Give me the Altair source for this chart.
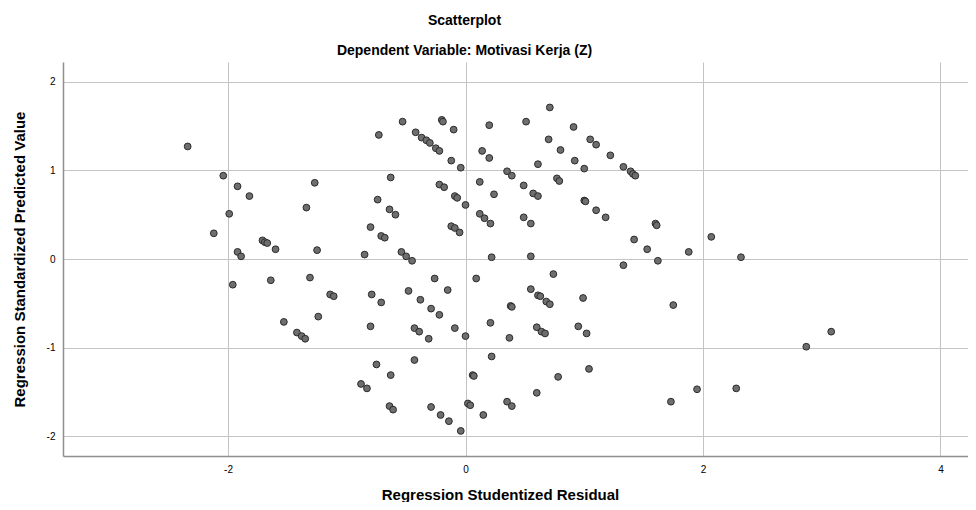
import altair as alt
import pandas as pd

# Regression Studentized Residual (x) and Regression Standardized Predicted Value (y)
resid = [
    -2.34, -2.04, -1.92, -1.82, -1.99, -2.12, -1.71, -1.69, -1.67, -1.60,
    -1.92, -1.89, -1.27, -1.34, -1.25, -1.96, -1.64, -1.31, -1.14, -1.11,
    -1.53, -1.24, -1.42, -1.38, -1.35,
    -0.73, -0.53, -0.42, -0.37, -0.33, -0.30, -0.25, -0.22, -0.20, -0.19,
    -0.10, -0.12, -0.04, -0.63, -0.22, -0.18, -0.74, -0.64, -0.59, -0.09,
    -0.07, 0.00, -0.80, -0.71, -0.68, -0.85, -0.54, -0.50, -0.45, -0.12,
    -0.09, -0.05,
    0.20, 0.51, 0.71, 0.91, 0.70, 1.05, 1.10, 0.80, 1.22, 0.14,
    0.20, 0.61, 0.92, 1.00, 1.33, 1.39, 1.41, 1.43, 0.35, 0.39,
    0.12, 0.49, 0.77, 0.79, 0.24, 0.57, 0.61, 1.00, 1.01, 1.10,
    1.18, 0.12, 0.16, 0.21, 0.49, 0.55, 1.60, 1.61, 1.42, 1.53,
    0.22, 0.55, 1.33, 1.62,
    2.07, 1.88, 2.32, 2.87, 3.08, 2.28, 1.95, 1.73, 1.75, 1.04,
    0.78, 0.99, 0.95, 1.02, 0.74,
    0.55, 0.61, 0.63, 0.68, 0.71, 0.38, 0.39, 0.21, 0.37, 0.60,
    0.64, 0.67, 0.22, 0.60, 0.35, 0.39, 0.15,
    -0.26, 0.09, -0.79, -0.71, -0.48, -0.15, -0.38, -0.29, -0.22, -0.80,
    -0.43, -0.39, -0.31, -0.09, 0.00, -0.75, -0.43, -0.63, 0.06, 0.07,
    -0.88, -0.83, -0.64, -0.61, -0.29, -0.21, -0.14, -0.04, 0.02, 0.04,
]
predicted = [
    1.27, 0.94, 0.82, 0.71, 0.51, 0.29, 0.21, 0.19, 0.18, 0.11,
    0.08, 0.03, 0.86, 0.58, 0.10, -0.29, -0.24, -0.21, -0.40, -0.42,
    -0.71, -0.65, -0.83, -0.87, -0.90,
    1.40, 1.55, 1.43, 1.37, 1.34, 1.31, 1.25, 1.22, 1.57, 1.55,
    1.46, 1.11, 1.03, 0.92, 0.84, 0.81, 0.67, 0.56, 0.50, 0.71,
    0.69, 0.61, 0.36, 0.26, 0.24, 0.05, 0.08, 0.03, -0.02, 0.37,
    0.35, 0.30,
    1.51, 1.55, 1.71, 1.49, 1.35, 1.35, 1.29, 1.23, 1.17, 1.22,
    1.14, 1.07, 1.11, 1.02, 1.04, 0.99, 0.96, 0.94, 0.99, 0.94,
    0.87, 0.83, 0.91, 0.88, 0.73, 0.74, 0.71, 0.66, 0.65, 0.55,
    0.47, 0.51, 0.46, 0.40, 0.47, 0.40, 0.40, 0.38, 0.22, 0.11,
    0.02, 0.03, -0.07, -0.02,
    0.25, 0.08, 0.02, -0.99, -0.82, -1.46, -1.47, -1.61, -0.52, -1.24,
    -1.33, -0.44, -0.76, -0.84, -0.17,
    -0.34, -0.41, -0.42, -0.48, -0.51, -0.53, -0.54, -0.72, -0.89, -0.77,
    -0.82, -0.84, -1.10, -1.51, -1.61, -1.66, -1.76,
    -0.22, -0.22, -0.40, -0.49, -0.36, -0.35, -0.46, -0.56, -0.63, -0.76,
    -0.78, -0.82, -0.90, -0.78, -0.87, -1.19, -1.14, -1.31, -1.31, -1.32,
    -1.41, -1.46, -1.66, -1.70, -1.67, -1.76, -1.83, -1.94, -1.63, -1.65,
]

x_ticks = [-2, 0, 2, 4]
y_ticks = [-2, -1, 0, 1, 2]

df = pd.DataFrame({"resid": resid, "pred": predicted})

FONT = "Liberation Sans"

chart = (
    alt.Chart(
        df,
        title=alt.Title(
            text="Scatterplot",
            subtitle="Dependent Variable: Motivasi Kerja (Z)",
            anchor="middle",
            frame="group",
            dx=-51,
            offset=4,
            font=FONT,
            fontSize=14,
            fontWeight="bold",
            color="#000000",
            subtitleFont=FONT,
            subtitleFontSize=14,
            subtitleFontWeight="bold",
            subtitleColor="#000000",
            subtitlePadding=16,
        ),
    )
    .mark_circle(size=46, fill="#6e6e6e", stroke="#2b2b2b", strokeWidth=1, opacity=1, fillOpacity=1)
    .encode(
        x=alt.X(
            "resid:Q",
            scale=alt.Scale(domain=[-3.39, 4.232], nice=False, zero=False),
            axis=alt.Axis(
                values=x_ticks,
                labelExpr="'' + datum.value",
                title="Regression Studentized Residual",
                titleX=437,
                titlePadding=13,
            ),
        ),
        y=alt.Y(
            "pred:Q",
            scale=alt.Scale(domain=[-2.223, 2.223], nice=False, zero=False),
            axis=alt.Axis(
                values=y_ticks,
                labelExpr="'' + datum.value",
                title="Regression Standardized Predicted Value",
                titlePadding=19,
            ),
        ),
    )
    .properties(
        width=905,
        height=394,
        autosize=alt.AutoSizeParams(type="none"),
        padding={"left": 55, "top": 54, "right": 0, "bottom": 46},
    )
    .configure_view(stroke=None)
    .configure_axis(
        grid=True,
        gridColor="#c4c4c4",
        gridWidth=1,
        domainColor="#8f8f8f",
        domainWidth=1.5,
        ticks=False,
        labelFont=FONT,
        labelFontSize=10,
        labelColor="#000000",
        labelPadding=8,
        titleFont=FONT,
        titleFontSize=15,
        titleFontWeight="bold",
        titleColor="#000000",
    )
)

chart.save("out.html", embed_options={"renderer": "svg", "actions": False})
